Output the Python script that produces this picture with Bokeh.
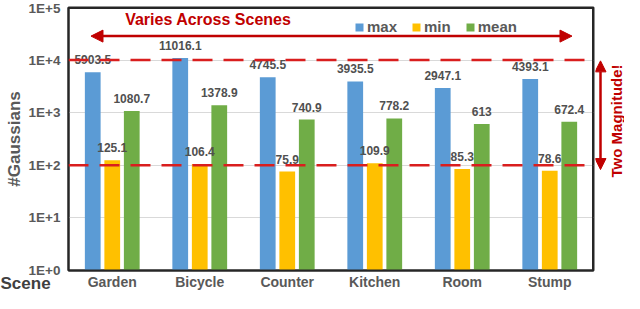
from bokeh.plotting import figure
from bokeh.layouts import row
from bokeh.models import (FactorRange, ColumnDataSource, LabelSet, Span, Label, Arrow,
                          NormalHead, FixedTicker, CustomJSTickFormatter, Legend,
                          LegendItem, Range1d, Title)
from bokeh.transform import dodge
from bokeh.core.properties import value
from bokeh.embed import file_html
from bokeh.resources import INLINE

# ---- data ----
scenes = ["Garden", "Bicycle", "Counter", "Kitchen", "Room", "Stump"]
max_vals = [5903.5, 11016.1, 4745.5, 3935.5, 2947.1, 4393.1]
min_vals = [125.1, 106.4, 75.9, 109.9, 85.3, 78.6]
mean_vals = [1080.7, 1378.9, 740.9, 778.2, 613, 672.4]
tick_values = [1, 10, 100, 1000, 10000, 100000]
tick_labels = ["1E+0", "1E+1", "1E+2", "1E+3", "1E+4", "1E+5"]
ref_levels = [1e4, 1e2]

FONT = "Liberation Sans"
RED = "#C00000"
DASH_RED = "#D91E1E"
GRAY = "#595959"
BORDER = "#262626"

src = ColumnDataSource(dict(
    scene=scenes,
    mx=max_vals, mn=min_vals, me=mean_vals,
    mx_t=[str(v) for v in max_vals],
    mn_t=[str(v) for v in min_vals],
    me_t=[str(v) for v in mean_vals],
))

yr = Range1d(1, 1e5)
p = figure(x_range=FactorRange(*scenes), y_axis_type="log", y_range=yr,
           width=595, height=293, output_backend="svg", toolbar_location=None,
           title=None, min_border_left=68, min_border_right=2, min_border_top=7,
           min_border_bottom=23, background_fill_color="white", border_fill_color="white")

series = [("max", "mx", -0.223, "#5B9BD5"),
          ("min", "mn", 0.0, "#FFC000"),
          ("mean", "me", 0.223, "#70AD47")]

items = []
for name, col, off, color in series:
    r = p.vbar(x=dodge("scene", off, range=p.x_range), top=col, bottom=1, width=0.18,
               source=src, fill_color=color, line_color=None)
    items.append(LegendItem(label=name, renderers=[r]))
    p.add_layout(LabelSet(x=dodge("scene", off, range=p.x_range), y=col, text=col + "_t",
                          source=src, text_align="center", text_baseline="alphabetic",
                          y_offset=8, text_font=value(FONT), text_font_style="bold",
                          text_font_size="12px", text_color="#505050"))

legend = Legend(items=items, orientation="horizontal", location=(286, 235),
                background_fill_alpha=0, border_line_color=None,
                label_text_font=FONT, label_text_font_style="bold",
                label_text_font_size="15px", label_text_color=GRAY,
                glyph_width=10, glyph_height=10, label_height=16, label_standoff=3,
                spacing=14, padding=0, margin=0)
p.add_layout(legend)

for lvl in ref_levels:
    p.add_layout(Span(location=lvl, dimension="width", line_color=DASH_RED,
                      line_width=2.5, line_dash="20 11"))

# top and right frame borders
p.add_layout(Span(location=yr.end, dimension="width", line_color=BORDER, line_width=3))
p.add_layout(Span(location=len(scenes), dimension="height", line_color=BORDER, line_width=3))

p.add_layout(Arrow(x_start=0.257, y_start=28600, x_end=5.754, y_end=28600,
                   line_color=RED, line_width=2.5,
                   start=NormalHead(size=12, fill_color=RED, line_color=RED),
                   end=NormalHead(size=12, fill_color=RED, line_color=RED)))
p.add_layout(Label(x=1.598, y=58100, text="Varies Across Scenes", text_align="center",
                   text_baseline="middle", text_font=FONT, text_font_style="bold",
                   text_font_size="16px", text_color=RED))

# "Scene" caption at the left of the category row
p.add_layout(Title(text="Scene", align="left", offset=-68, standoff=-37,
                   vertical_align="top", text_font=FONT, text_font_style="bold",
                   text_font_size="17px", text_color="#404040"), "below")

# axes
p.yaxis.ticker = FixedTicker(ticks=tick_values)
p.yaxis.formatter = CustomJSTickFormatter(args=dict(vals=tick_values, labels=tick_labels), code="""
let best = 0, bd = Infinity;
for (let i = 0; i < vals.length; i++) {
  const d = Math.abs(Math.log10(vals[i]) - Math.log10(tick));
  if (d < bd) { bd = d; best = i; }
}
return labels[best];
""")
p.yaxis.minor_tick_line_color = None
p.yaxis.major_tick_line_color = None
p.yaxis.major_tick_out = 0
p.yaxis.major_tick_in = 0
p.yaxis.minor_tick_out = 0
p.yaxis.axis_line_color = BORDER
p.yaxis.axis_line_width = 2
p.yaxis.major_label_text_font = FONT
p.yaxis.major_label_text_font_style = "bold"
p.yaxis.major_label_text_font_size = "13.5px"
p.yaxis.major_label_text_color = GRAY
p.yaxis.major_label_standoff = 8
p.yaxis.axis_label = "#Gaussians"
p.yaxis.axis_label_text_font = FONT
p.yaxis.axis_label_text_font_style = "bold"
p.yaxis.axis_label_text_font_size = "17px"
p.yaxis.axis_label_text_color = GRAY
p.yaxis.axis_label_standoff = 2

p.xaxis.major_tick_line_color = None
p.xaxis.minor_tick_line_color = None
p.xaxis.major_tick_out = 0
p.xaxis.major_tick_in = 0
p.xaxis.axis_line_color = BORDER
p.xaxis.axis_line_width = 2
p.xaxis.major_label_text_font = FONT
p.xaxis.major_label_text_font_style = "bold"
p.xaxis.major_label_text_font_size = "14px"
p.xaxis.major_label_text_color = GRAY
p.xaxis.major_label_standoff = 3

p.xgrid.grid_line_color = None
p.ygrid.grid_line_color = "#D9D9D9"
p.ygrid.grid_line_width = 1
p.outline_line_color = BORDER
p.outline_line_width = 2
p.outline_line_alpha = 1

# right strip: "Two Magnitude!" arrow and caption (x in pixels of the strip)
p2 = figure(x_range=Range1d(0, 29), y_axis_type="log", y_range=yr,
            width=29, height=293, output_backend="svg", toolbar_location=None,
            title=None, min_border_left=0, min_border_right=0, min_border_top=7,
            min_border_bottom=23, x_axis_location=None, y_axis_location=None,
            background_fill_color="white", border_fill_color="white")
p2.grid.visible = False
p2.outline_line_color = None
p2.add_layout(Arrow(x_start=5, y_start=9670, x_end=5, y_end=83,
                    line_color=RED, line_width=2.5,
                    start=NormalHead(size=11, fill_color=RED, line_color=RED),
                    end=NormalHead(size=11, fill_color=RED, line_color=RED)))
p2.add_layout(Label(x=21, y=698, angle=90, angle_units="deg", text="Two Magnitude!",
                    text_align="center", text_baseline="middle", text_font=FONT,
                    text_font_style="bold", text_font_size="15px", text_color=RED))

layout = row(p, p2)
open("out.html", "w").write(file_html(layout, INLINE))
